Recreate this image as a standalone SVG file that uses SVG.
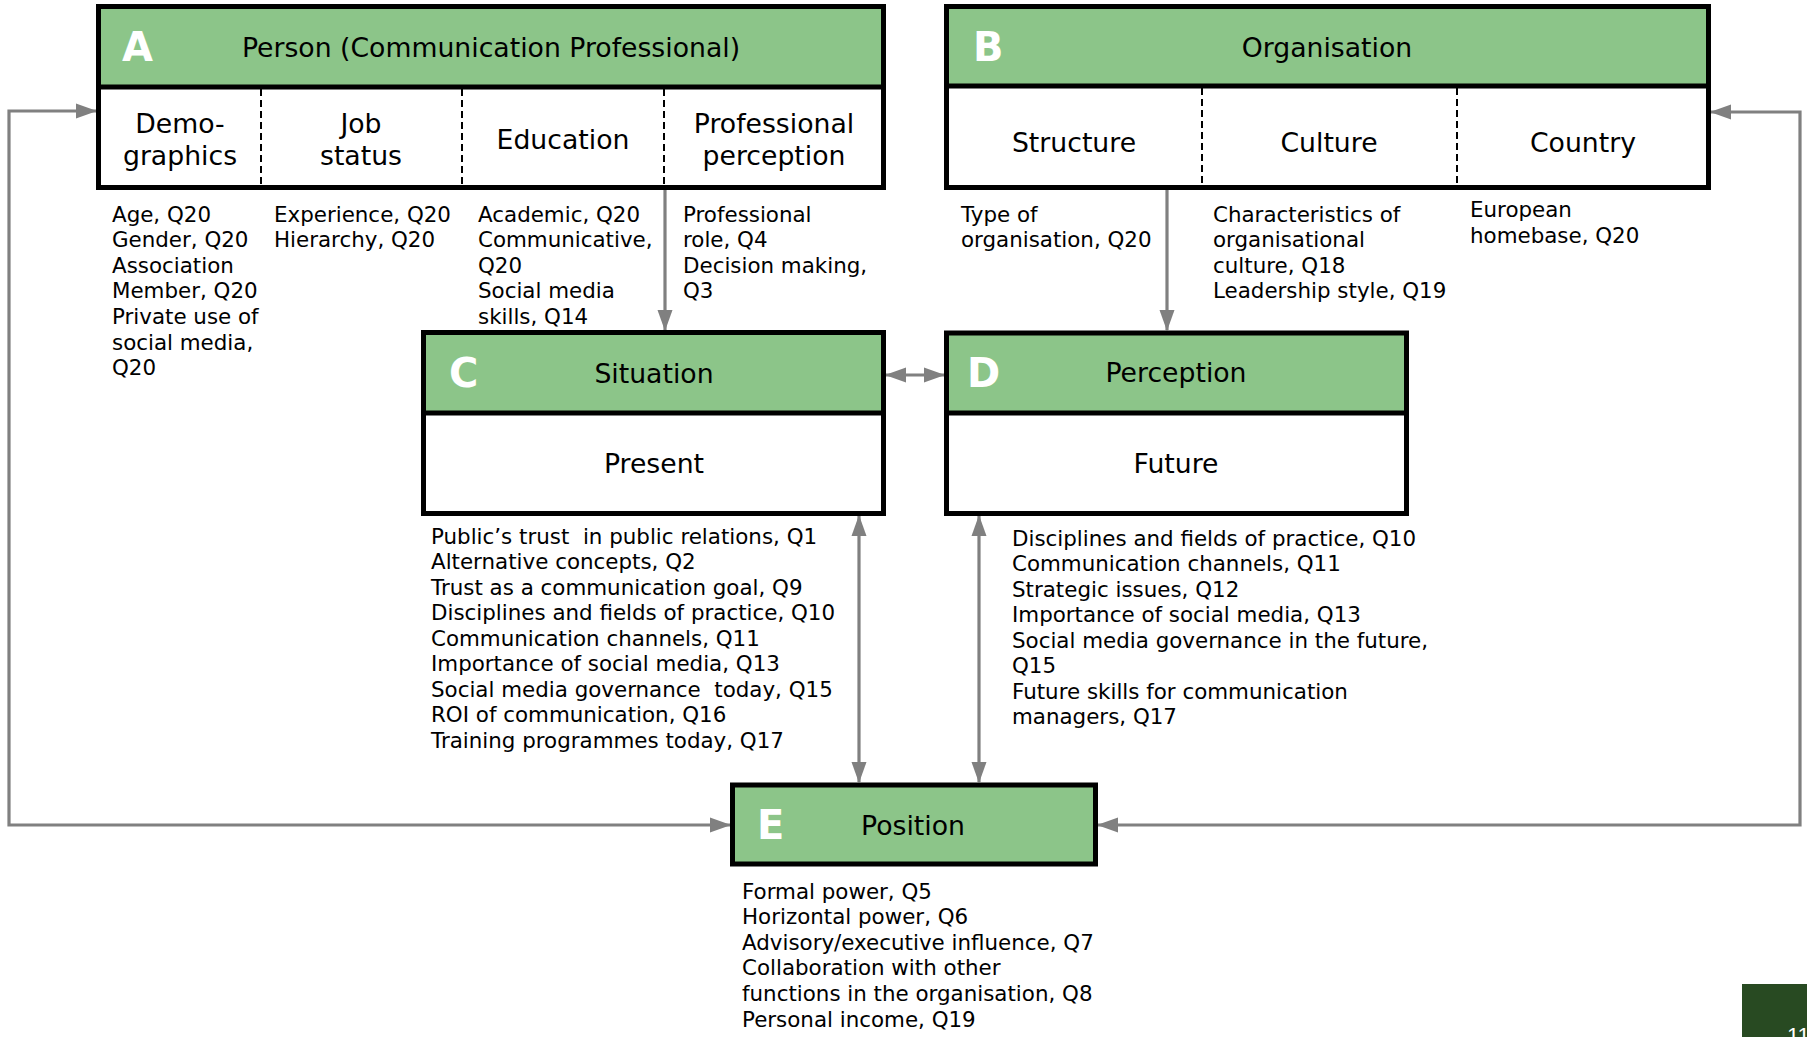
<svg xmlns="http://www.w3.org/2000/svg" width="1807" height="1037" viewBox="0 0 1807 1037">
<style>
.bg{fill:#fff;stroke:none}
.hdr{fill:#8cc589;stroke:none}
.out{fill:none;stroke:#000;stroke-width:5}
.sep{stroke:#000;stroke-width:5}
.dash{stroke:#000;stroke-width:2;stroke-dasharray:7 4}
.t{font-family:'DejaVu Sans',Verdana,sans-serif;fill:#000}
.h{font-size:26.7px;text-anchor:middle}
.L{font-family:'DejaVu Sans',Verdana,sans-serif;font-size:40px;font-weight:bold;fill:#fff}
.b{font-size:21.4px}
.pre{white-space:pre}
.con{fill:none;stroke:#808080;stroke-width:3.2}
</style>
<defs>
<marker id="ah" markerUnits="userSpaceOnUse" markerWidth="21" markerHeight="16" refX="20" refY="8" orient="auto-start-reverse">
<path d="M0,0.5 L21,8 L0,15.5 z" fill="#808080"/>
</marker>
</defs>

<g id="connectors">
<path class="con" d="M730,825 L9,825 L9,111 L96,111" marker-start="url(#ah)" marker-end="url(#ah)"/>
<path class="con" d="M1098,825 L1800,825 L1800,112 L1711,112" marker-start="url(#ah)" marker-end="url(#ah)"/>
<path class="con" d="M665,190 L665,330" marker-end="url(#ah)"/>
<path class="con" d="M1167,190 L1167,330" marker-end="url(#ah)"/>
<path class="con" d="M886,375 L944,375" marker-start="url(#ah)" marker-end="url(#ah)"/>
<path class="con" d="M859,516 L859,782" marker-start="url(#ah)" marker-end="url(#ah)"/>
<path class="con" d="M979,516 L979,782" marker-start="url(#ah)" marker-end="url(#ah)"/>
</g>

<g id="nodeA">
<rect class="bg" x="98.5" y="6.5" width="785" height="181"/>
<rect class="hdr" x="98.5" y="6.5" width="785" height="80.5"/>
<line class="sep" x1="98.5" y1="87" x2="883.5" y2="87"/>
<line class="dash" x1="261" y1="89" x2="261" y2="185"/>
<line class="dash" x1="462" y1="89" x2="462" y2="185"/>
<line class="dash" x1="664" y1="89" x2="664" y2="185"/>
<rect class="out" x="98.5" y="6.5" width="785" height="181"/>
<text class="L" x="122" y="61">A</text>
<text class="t h" x="491" y="57">Person (Communication Professional)</text>
<text class="t h" x="180" y="133">Demo-<tspan x="180" y="165">graphics</tspan></text>
<text class="t h" x="361" y="133">Job<tspan x="361" y="165">status</tspan></text>
<text class="t h" x="563" y="149">Education</text>
<text class="t h" x="774" y="133">Professional<tspan x="774" y="165">perception</tspan></text>
<text class="t b" x="112" y="221.5">Age, Q20<tspan x="112" dy="25.6">Gender, Q20</tspan><tspan x="112" dy="25.6">Association</tspan><tspan x="112" dy="25.6">Member, Q20</tspan><tspan x="112" dy="25.6">Private use of</tspan><tspan x="112" dy="25.6">social media,</tspan><tspan x="112" dy="25.6">Q20</tspan></text>
<text class="t b" x="274" y="221.5">Experience, Q20<tspan x="274" dy="25.6">Hierarchy, Q20</tspan></text>
<text class="t b" x="478" y="221.5">Academic, Q20<tspan x="478" dy="25.6">Communicative,</tspan><tspan x="478" dy="25.6">Q20</tspan><tspan x="478" dy="25.6">Social media</tspan><tspan x="478" dy="25.6">skills, Q14</tspan></text>
<text class="t b" x="683" y="221.5">Professional<tspan x="683" dy="25.6">role, Q4</tspan><tspan x="683" dy="25.6">Decision making,</tspan><tspan x="683" dy="25.6">Q3</tspan></text>
</g>

<g id="nodeB">
<rect class="bg" x="946.5" y="6.5" width="762" height="181"/>
<rect class="hdr" x="946.5" y="6.5" width="762" height="79.5"/>
<line class="sep" x1="946.5" y1="86" x2="1708.5" y2="86"/>
<line class="dash" x1="1202" y1="88" x2="1202" y2="185"/>
<line class="dash" x1="1457" y1="88" x2="1457" y2="185"/>
<rect class="out" x="946.5" y="6.5" width="762" height="181"/>
<text class="L" x="973" y="61">B</text>
<text class="t h" x="1327" y="56.5">Organisation</text>
<text class="t h" x="1074" y="152">Structure</text>
<text class="t h" x="1329" y="152">Culture</text>
<text class="t h" x="1583" y="152">Country</text>
<text class="t b" x="961" y="221.5">Type of<tspan x="961" dy="25.6">organisation, Q20</tspan></text>
<text class="t b" x="1213" y="221.5">Characteristics of<tspan x="1213" dy="25.6">organisational</tspan><tspan x="1213" dy="25.6">culture, Q18</tspan><tspan x="1213" dy="25.6">Leadership style, Q19</tspan></text>
<text class="t b" x="1470" y="217">European<tspan x="1470" dy="25.6">homebase, Q20</tspan></text>
</g>

<g id="nodeC">
<rect class="bg" x="423.5" y="332.5" width="460" height="181"/>
<rect class="hdr" x="423.5" y="332.5" width="460" height="80.5"/>
<line class="sep" x1="423.5" y1="413" x2="883.5" y2="413"/>
<rect class="out" x="423.5" y="332.5" width="460" height="181"/>
<text class="L" x="449" y="387">C</text>
<text class="t h" x="654" y="383">Situation</text>
<text class="t h" x="654" y="473">Present</text>
<text class="t b pre" x="431" y="543.5">Public’s trust  in public relations, Q1<tspan x="431" dy="25.5">Alternative concepts, Q2</tspan><tspan x="431" dy="25.5">Trust as a communication goal, Q9</tspan><tspan x="431" dy="25.5">Disciplines and fields of practice, Q10</tspan><tspan x="431" dy="25.5">Communication channels, Q11</tspan><tspan x="431" dy="25.5">Importance of social media, Q13</tspan><tspan x="431" dy="25.5">Social media governance  today, Q15</tspan><tspan x="431" dy="25.5">ROI of communication, Q16</tspan><tspan x="431" dy="25.5">Training programmes today, Q17</tspan></text>
</g>

<g id="nodeD">
<rect class="bg" x="946.5" y="333" width="460" height="180.5"/>
<rect class="hdr" x="946.5" y="333" width="460" height="80"/>
<line class="sep" x1="946.5" y1="413" x2="1406.5" y2="413"/>
<rect class="out" x="946.5" y="333" width="460" height="180.5"/>
<text class="L" x="967" y="387">D</text>
<text class="t h" x="1176" y="382">Perception</text>
<text class="t h" x="1176" y="473">Future</text>
<text class="t b" x="1012" y="545.5">Disciplines and fields of practice, Q10<tspan x="1012" dy="25.5">Communication channels, Q11</tspan><tspan x="1012" dy="25.5">Strategic issues, Q12</tspan><tspan x="1012" dy="25.5">Importance of social media, Q13</tspan><tspan x="1012" dy="25.5">Social media governance in the future,</tspan><tspan x="1012" dy="25.5">Q15</tspan><tspan x="1012" dy="25.5">Future skills for communication</tspan><tspan x="1012" dy="25.5">managers, Q17</tspan></text>
</g>

<g id="nodeE">
<rect class="hdr" x="732.5" y="785" width="363" height="79"/>
<rect class="out" x="732.5" y="785" width="363" height="79"/>
<text class="L" x="757" y="839">E</text>
<text class="t h" x="913" y="835">Position</text>
<text class="t b" x="742" y="898.5">Formal power, Q5<tspan x="742" dy="25.6">Horizontal power, Q6</tspan><tspan x="742" dy="25.6">Advisory/executive influence, Q7</tspan><tspan x="742" dy="25.6">Collaboration with other</tspan><tspan x="742" dy="25.6">functions in the organisation, Q8</tspan><tspan x="742" dy="25.6">Personal income, Q19</tspan></text>
</g>

<g id="pagecorner">
<rect x="1742" y="984" width="65" height="53" fill="#284a22"/>
<text x="1787" y="1043" font-family="'Liberation Sans',Arial,sans-serif" font-size="22" fill="#fff">11</text>
</g>
</svg>
